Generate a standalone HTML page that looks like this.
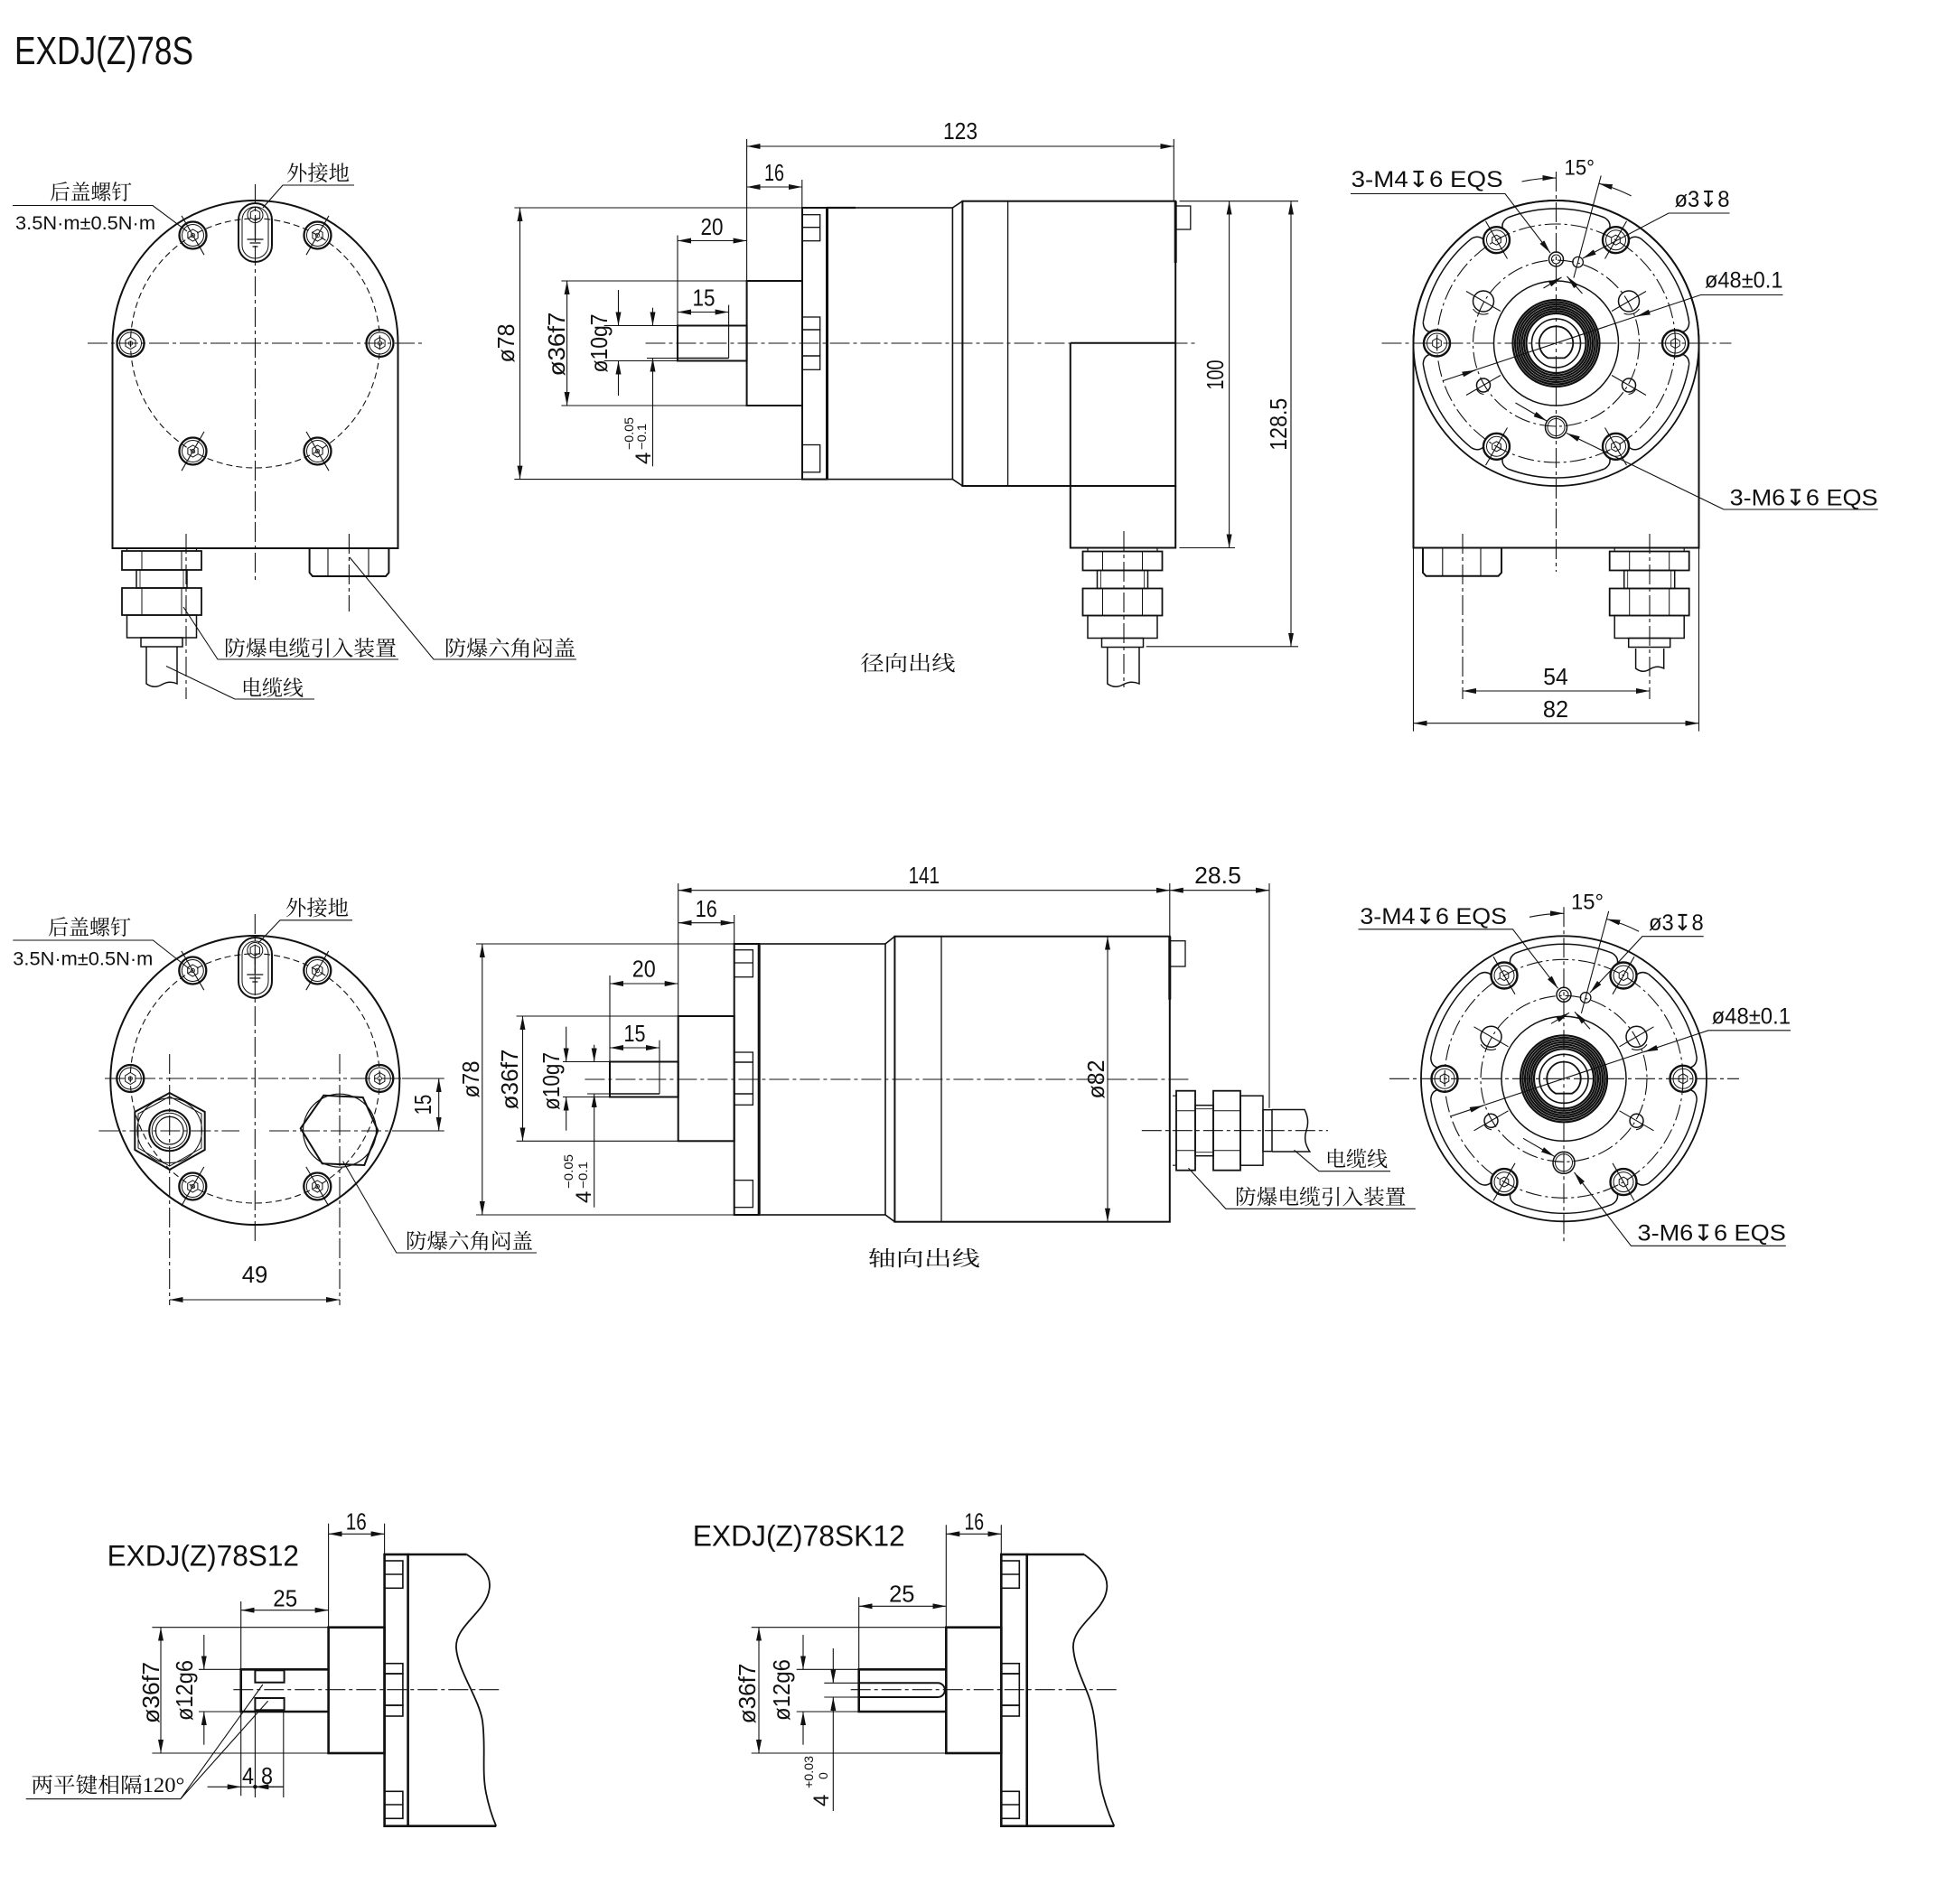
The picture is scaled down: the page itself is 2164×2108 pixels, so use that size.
<!DOCTYPE html>
<html><head><meta charset="utf-8">
<style>
html,body{margin:0;padding:0;background:#fff}
svg{display:block}
text{font-family:"Liberation Sans","DejaVu Sans","Noto Sans CJK SC",sans-serif;fill:#111;stroke:none}
.s{font-family:"Liberation Serif","Noto Serif CJK SC","Noto Sans CJK SC",serif;font-size:23px}
.n{font-size:26px}
.f{font-size:25px}
.d{stroke-width:1.1}
.c{stroke-width:1.1;stroke-dasharray:22 4 4 4}
.aa{marker-start:url(#a);marker-end:url(#a)}
.ae{marker-end:url(#a)}
</style></head><body>
<svg width="2164" height="2108" viewBox="0 0 2164 2108" xmlns="http://www.w3.org/2000/svg">
<defs>
<marker id="a" viewBox="0 0 15 6" refX="15" refY="3" markerWidth="15" markerHeight="6" orient="auto-start-reverse" markerUnits="userSpaceOnUse"><path d="M0,0L15,3L0,6z" fill="#111" stroke="none"/></marker>
<g id="hx" fill="none" stroke="#111" stroke-width="1"><polygon points="0,-6 5.2,-3 5.2,3 0,6 -5.2,3 -5.2,-3"/></g>
<g id="scr" fill="none" stroke="#111"><circle r="15" stroke-width="2.3"/><circle r="12" stroke-width="1"/><polygon points="0,-6.5 5.6,-3.25 5.6,3.25 0,6.5 -5.6,3.25 -5.6,-3.25" stroke-width="1"/><circle r="2.2" stroke-width="0.8"/></g>
<g id="blt" fill="none" stroke="#111"><circle r="14.5" stroke-width="2.4"/><circle r="11" stroke-width="1"/><polygon points="0,-5.5 4.8,-2.75 4.8,2.75 0,5.5 -4.8,2.75 -4.8,-2.75" stroke-width="1"/></g>
<g id="gl" fill="none" stroke="#111">
<path d="M-38.5,0V4M38.5,0V4" stroke-width="1.2"/>
<rect x="-44" y="4" width="88" height="21" stroke-width="1.8"/>
<path d="M-22,4V25M22,4V25" stroke-width="1"/>
<rect x="-28" y="25" width="56" height="20" stroke-width="1.5"/>
<path d="M-24,25V45M24,25V45" stroke-width="0.8"/>
<rect x="-44" y="45" width="88" height="30" stroke-width="1.8"/>
<path d="M-22,45V75M22,45V75" stroke-width="1"/>
<rect x="-38.5" y="75" width="77" height="25" stroke-width="1.5"/>
<rect x="-23" y="100" width="46" height="10" stroke-width="1.5"/>
</g>
<g id="fil" fill="none" stroke="#111" stroke-width="1.5"><path d="M147.2,-23.3A149,149 0 0 0 93.8,-115.8M147.2,-23.3Q147,-14 139,-12.1M147.2,23.3Q147,14 139,12.1"/></g>
<g id="fv" fill="none" stroke="#111">
<circle r="158" stroke-width="1.8"/>
<use href="#fil"/><use href="#fil" transform="rotate(-60)"/><use href="#fil" transform="rotate(-120)"/><use href="#fil" transform="rotate(-180)"/><use href="#fil" transform="rotate(-240)"/><use href="#fil" transform="rotate(-300)"/>
<circle r="132" stroke-width="1.1" stroke-dasharray="18 4 3 4"/>
<circle r="92" stroke-width="1.1" stroke-dasharray="18 4 3 4"/>
<circle r="69" stroke-width="1.5"/>
<g stroke-width="2.2"><circle r="48"/><circle r="45.5"/><circle r="43"/><circle r="40.5"/><circle r="38"/><circle r="35.5"/><circle r="33"/></g>
<circle r="27" stroke-width="1.6"/>
<path d="M-9,16.4A18.7,18.7 0 1 1 9,16.4Z" stroke-width="1.8"/>
<use href="#blt" x="132" y="0"/><use href="#blt" x="-132" y="0"/><use href="#blt" x="66" y="-114.3"/><use href="#blt" x="-66" y="-114.3"/><use href="#blt" x="-66" y="114.3"/><use href="#blt" x="66" y="114.3"/>
<path class="d" d="M54,-93.5L78,-135.1M-54,-93.5L-78,-135.1M-54,93.5L-78,135.1M54,93.5L78,135.1"/>
<circle cx="0" cy="-93" r="8" stroke-width="1.5"/><circle cx="0" cy="-93" r="5" stroke-width="1"/>
<circle cx="24.1" cy="-89.8" r="5.8" stroke-width="1.3"/>
<circle cx="80.5" cy="-46.5" r="11.5" stroke-width="1.5"/><circle cx="-80.5" cy="-46.5" r="11.5" stroke-width="1.5"/>
<path d="M92,-38A14,14 0 0 1 75,-33M-92,-38A14,14 0 0 0 -75,-33" stroke-width="1.1"/>
<circle cx="-80.5" cy="46.5" r="7.5" stroke-width="1.5"/><circle cx="80.5" cy="46.5" r="7.5" stroke-width="1.5"/>
<path d="M88,51A10,10 0 0 1 80,56.5M-88,51A10,10 0 0 0 -80,56.5" stroke-width="1.1"/>
<circle cx="0" cy="93" r="12" stroke-width="1.5"/><circle cx="0" cy="93" r="9.5" stroke-width="1"/>
<path class="d" d="M61.5,-35.5L99.5,-57.5M-61.5,-35.5L-99.5,-57.5M-61.5,35.5L-99.5,57.5M61.5,35.5L99.5,57.5"/>
<path class="d ae" d="M-38,-179A183,183 0 0 1 0,-183"/>
<path class="d ae" d="M83.1,-163.1A183,183 0 0 0 47.4,-176.8"/>
<path class="d" d="M19.4,-72.4L49.7,-185.5"/>
<path class="d" d="M-125,41.5L160,-53.5H251"/>
<path class="d ae" d="M-104.4,34.8L-89.2,29.7"/><path class="d ae" d="M104.4,-34.8L89.2,-29.7"/>
<path class="d ae" d="M-227.5,-165.5H-56.5L-6.5,-100"/>
<path class="d ae" d="M-45,66L-10.5,86"/>
<path class="d ae" d="M-14,-61L6,-73"/><path class="d ae" d="M29,-55L12,-74"/>
<path class="c" d="M-193,0H194M0,-190V183"/>
</g>
</defs>

<!-- ============ TITLE ============ -->
<text x="16" y="71" font-size="44" textLength="198" lengthAdjust="spacingAndGlyphs">EXDJ(Z)78S</text>

<g fill="none" stroke="#111">
<!-- ============ TOP-LEFT (rear, radial) ============ -->
<path d="M124.5,607V380A158,158 0 0 1 440.5,380V607Z" stroke-width="2"/>
<circle cx="282.5" cy="380" r="138" stroke-width="1.1" stroke-dasharray="7 4"/>
<path class="c" d="M282.5,204V646M97,380H468"/>
<use href="#scr" x="351.5" y="260.5"/><use href="#scr" x="213.5" y="260.5"/><use href="#scr" x="144.5" y="380"/><use href="#scr" x="420.5" y="380"/><use href="#scr" x="213.5" y="499.5"/><use href="#scr" x="351.5" y="499.5"/>
<path class="d" d="M339,282.2L364,238.9M226,282.2L201,238.9M226,477.9L201,521.2M339,477.9L364,521.2"/>
<rect x="264" y="225" width="37" height="65" rx="18.5" stroke-width="2"/>
<rect x="268" y="229" width="29" height="57" rx="14.5" stroke-width="1"/>
<use href="#hx" x="282.5" y="238"/>
<circle cx="282.5" cy="238" r="8.5" stroke-width="1"/>
<path d="M282.5,246V265M273.5,265H291.5M276.5,269H288.5M279.5,273H285.5" stroke-width="1.3"/>
<use href="#gl" x="179" y="606"/>
<path d="M162,716V757Q170.5,763 179,758T196,757V716" stroke-width="1.5"/>
<path class="c" d="M206,591V774"/>
<path d="M342.6,607V634L346,638H427L430.4,634V607" stroke-width="2"/>
<path class="d" d="M363,607V638M408,607V638"/>
<path class="c" d="M386.4,591V677"/>
<path class="d" d="M14,227.5H169L207,256"/>
<path class="d" d="M392,205H313L291,230"/>
<path class="d" d="M441,730H241L203,672"/>
<path class="d" d="M638,730H480L387,617"/>
<path class="d" d="M348,774H260L184,737.5"/>

<!-- ============ TOP-MIDDLE (side, radial) ============ -->
<path class="d aa" d="M826.6,162H1299.3"/>
<path class="d" d="M826.6,154V311.2M1299.3,154V222.7"/>
<path class="d aa" d="M826.6,207H887.8"/>
<path class="d" d="M887.8,199V230"/>
<rect x="888" y="230" width="27.5" height="300.6" stroke-width="2"/>
<path d="M915.5,231V530" stroke-width="3"/>
<path d="M915,230H947" stroke-width="2.2"/>
<g stroke-width="1.3"><rect x="888" y="237.7" width="19.7" height="29"/><path d="M888,251.7H907.7"/><rect x="888" y="351" width="19.7" height="14"/><rect x="888" y="365" width="19.7" height="29"/><rect x="888" y="394" width="19.7" height="15.3"/><rect x="888" y="492.5" width="19.7" height="30.3"/></g>
<rect x="915.5" y="230" width="138.9" height="300.6" stroke-width="1.6"/>
<path d="M1054.4,230L1065.4,222.7M1054.4,530.6L1065.4,538" stroke-width="1.6"/>
<rect x="1065.4" y="222.7" width="235.8" height="315.3" stroke-width="2"/>
<path d="M1115.6,222.7V538" stroke-width="1.3"/>
<path d="M1184.8,379.7V606.5H1301.2V538M1184.8,379.7H1301.2" stroke-width="2"/>
<path d="M1301.2,222.7V291" stroke-width="3"/>
<rect x="1301.2" y="228" width="16.6" height="26" stroke-width="1.3"/>
<path class="c" d="M714.5,380H1324"/>
<rect x="826.6" y="311" width="61.4" height="138" stroke-width="2"/>
<rect x="750" y="360.5" width="76.6" height="39" stroke-width="2"/>
<path d="M750,396.5H806.6" stroke-width="1.6"/>
<path class="d aa" d="M575.5,230V530.6"/>
<path class="d" d="M569.4,230H888M569.4,530.6H888"/>
<path class="d aa" d="M627.6,311V449"/>
<path class="d" d="M621.4,311H826.6M621.4,449H826.6"/>
<path class="d ae" d="M684.5,321V360.5"/><path class="d ae" d="M684.5,438V399.5"/>
<path class="d" d="M668.6,360.5H750M668.6,399.5H750"/>
<path class="d ae" d="M722.5,340.7V360.5"/><path class="d ae" d="M722.5,516.3V396.5"/>
<path class="d" d="M716,396.5H750"/>
<path class="d aa" d="M750,266.5H826.6"/>
<path class="d" d="M750,260.5V360.5"/>
<path class="d aa" d="M750,345.5H806.6"/>
<path class="d" d="M806.6,337.6V396.5"/>
<path class="d aa" d="M1360.6,222.7V606.5"/>
<path class="d" d="M1305.5,222.7H1437M1305.5,606.5H1367"/>
<path class="d aa" d="M1429,222.7V715.8"/>
<path class="d" d="M1268.7,715.8H1437"/>
<use href="#gl" x="1242.5" y="606.5"/>
<path d="M1225.8,716.5V757Q1234,763 1243,758T1261,757V716.5" stroke-width="1.5"/>
<path class="c" d="M1244,588V761"/>

<!-- ============ TOP-RIGHT (front, radial) ============ -->
<path d="M1564.5,606.5V380A158,158 0 0 1 1880.5,380V606.5Z" stroke-width="2"/>
<use href="#fv" x="1722.5" y="380"/>
<path class="c" d="M1722.5,563V633"/>
<path d="M1575,606.5V634L1578.5,637.8H1658.5L1662,634V606.5" stroke-width="2"/>
<path class="d" d="M1596.8,606.5V637.8M1639,606.5V637.8"/>
<use href="#gl" x="1825.7" y="606.5"/>
<path d="M1810.6,718V740Q1818,746 1826,741T1841.7,740V718" stroke-width="1.5"/>
<path class="c" d="M1619,591V774M1826,591V774"/>
<path class="d aa" d="M1619,765H1826"/>
<path class="d aa" d="M1564.5,800.7H1880.5"/>
<path class="d" d="M1564.5,606.5V809.6M1880.5,606.5V809.6"/>
<path class="d ae" d="M1914.5,236H1847L1752,286"/>
<path class="d ae" d="M2078.7,564H1908L1734,479.5"/>

<!-- ============ MIDDLE-LEFT (rear, axial) ============ -->
<circle cx="282.3" cy="1196" r="160" stroke-width="2"/>
<circle cx="282.3" cy="1194" r="138" stroke-width="1.1" stroke-dasharray="7 4"/>
<path class="c" d="M282.3,1012V1375M116,1194H457M109.4,1252H265M298,1252H453"/>
<use href="#scr" x="420.3" y="1194"/><use href="#scr" x="144.3" y="1194"/><use href="#scr" x="351.3" y="1074.5"/><use href="#scr" x="213.3" y="1074.5"/><use href="#scr" x="213.3" y="1313.5"/><use href="#scr" x="351.3" y="1313.5"/>
<path class="d" d="M338.8,1096.2L363.8,1052.9M225.8,1096.2L200.8,1052.9M225.8,1291.9L200.8,1335.2M338.8,1291.9L363.8,1335.2"/>
<rect x="264" y="1038" width="37" height="67" rx="18.5" stroke-width="2"/>
<rect x="268" y="1042" width="29" height="59" rx="14.5" stroke-width="1"/>
<use href="#hx" x="282.3" y="1052"/>
<circle cx="282.3" cy="1052" r="8.5" stroke-width="1"/>
<path d="M282.3,1060V1079M273.3,1079H291.3M276.3,1083H288.3M279.3,1087H285.3" stroke-width="1.3"/>
<polygon points="187.7,1210 226.7,1231 226.7,1273 187.7,1295 149.3,1273 149.3,1231" stroke-width="2"/>
<polygon points="187.7,1214 223,1233 223,1271 187.7,1291 153,1271 153,1233" stroke-width="1"/>
<circle cx="187.7" cy="1251.7" r="35.8" stroke-width="1"/>
<circle cx="187.7" cy="1251.7" r="22.5" stroke-width="2"/>
<circle cx="187.7" cy="1251.7" r="19.5" stroke-width="1"/>
<circle cx="187.7" cy="1251.7" r="15.3" stroke-width="1.2"/>
<polygon points="358.3,1212.7 401.7,1215 418.3,1251.7 403.3,1290 356.7,1288.3 332.7,1249.3" stroke-width="2"/>
<circle cx="376" cy="1251.7" r="40.5" stroke-width="1.2"/>
<path class="c" d="M187.7,1167V1445M376,1167V1445"/>
<path class="d aa" d="M485.7,1194V1252"/>
<path class="d" d="M445,1194H491.8M453,1252H491.8"/>
<path class="d aa" d="M187.7,1439H376"/>
<path class="d" d="M14.3,1041H169.4L210,1073"/>
<path class="d" d="M390,1018.8H310L286,1044"/>
<path class="d" d="M594,1387H438.8L379.6,1285.7"/>

<!-- ============ MIDDLE-MIDDLE (side, axial) ============ -->
<path class="d aa" d="M750.7,985.7H1294.8"/>
<path class="d aa" d="M1294.8,985.7H1405"/>
<path class="d" d="M750.7,978V1125M1294.8,978V1036.7M1405,978V1226.7"/>
<path class="d aa" d="M750.7,1021.7H812.7"/>
<path class="d" d="M812.7,1013V1045"/>
<rect x="812.7" y="1045" width="27.5" height="300" stroke-width="2"/>
<path d="M840.2,1046V1344" stroke-width="3"/>
<g stroke-width="1.3"><rect x="812.7" y="1051.7" width="20.7" height="30"/><path d="M812.7,1066H833.4"/><rect x="812.7" y="1165" width="20.7" height="11"/><rect x="812.7" y="1176" width="20.7" height="35"/><rect x="812.7" y="1211" width="20.7" height="12.3"/><rect x="812.7" y="1306.7" width="20.7" height="30"/></g>
<rect x="840.2" y="1045" width="139.8" height="300" stroke-width="1.6"/>
<path d="M980,1045L990.4,1036.7M980,1345L990.4,1352.7" stroke-width="1.6"/>
<rect x="990.4" y="1036.7" width="304.4" height="316" stroke-width="2"/>
<path d="M1042,1036.7V1352.7" stroke-width="1.3"/>
<path d="M1294.8,1036.7V1106.7" stroke-width="3"/>
<rect x="1294.8" y="1041.7" width="17.2" height="28.3" stroke-width="1.3"/>
<path class="d aa" d="M1226,1036.7V1352.7"/>
<rect x="750.7" y="1125" width="62" height="138.3" stroke-width="2"/>
<rect x="675" y="1175.5" width="75.7" height="39" stroke-width="2"/>
<path d="M675,1211H730" stroke-width="1.6"/>
<path class="d aa" d="M533.8,1045V1345"/>
<path class="d" d="M527,1045H812.7M527,1345H812.7"/>
<path class="d aa" d="M578.5,1125V1263.3"/>
<path class="d" d="M571.6,1125H750.7M571.6,1263.3H750.7"/>
<path class="d ae" d="M626.7,1136.7V1175.5"/><path class="d ae" d="M626.7,1251.7V1214.5"/>
<path class="d" d="M623,1175.5H675M623,1214.5H675"/>
<path class="d ae" d="M657.7,1156.7V1175.5"/><path class="d ae" d="M657.7,1336.7V1211"/>
<path class="d" d="M650,1211H675"/>
<path class="d aa" d="M675,1089H750.7"/>
<path class="d" d="M675,1080V1175.5"/>
<path class="d aa" d="M675,1160H730"/>
<path class="d" d="M730,1151.7V1211"/>
<path class="c" d="M647.4,1195H1319"/>
<use href="#gl" transform="translate(1298,1251.7) rotate(-90)"/>
<path d="M1408,1228.5H1444Q1450,1240 1446,1251.7T1449.8,1275H1408" stroke-width="1.5"/>
<path class="c" d="M1263.8,1251.7H1470"/>
<path class="d" d="M1539,1296.7H1460L1432.5,1273.3"/>
<path class="d" d="M1566.8,1338.3H1356.8L1315.5,1293.3"/>

<!-- ============ MIDDLE-RIGHT (front, axial) ============ -->
<use href="#fv" x="1731" y="1194.3"/>
<path class="d ae" d="M1885.7,1036.7H1817.9L1760,1099"/>
<path class="d ae" d="M1976.8,1379.3H1805.4L1742.5,1298"/>

<!-- ============ BOTTOM-LEFT ============ -->
<path class="d aa" d="M363.6,1698.3H425.6"/>
<path class="d" d="M363.6,1686.7V1801.7M425.6,1686.7V1721"/>
<rect x="425.6" y="1721" width="26" height="300.7" stroke-width="2.6"/>
<g stroke-width="1.6"><rect x="425.6" y="1728" width="20.3" height="30.3"/><path d="M425.6,1743H445.9"/><rect x="425.6" y="1841.7" width="20.3" height="11.3"/><rect x="425.6" y="1853" width="20.3" height="35"/><rect x="425.6" y="1888" width="20.3" height="12"/><rect x="425.6" y="1983.3" width="20.3" height="30"/><path d="M425.6,1998H445.9"/></g>
<path d="M451.6,1721H516.6M451.6,2021.7H549.2" stroke-width="2.6"/>
<path d="M516.6,1721C530,1730 545,1742 541.5,1760C538,1785 503,1800 505,1825C507,1850 530,1880 534,1905C538,1935 533,1960 538,1985C541,2000 545,2012 549.2,2021.7" stroke-width="1.8"/>
<rect x="363.6" y="1801.7" width="62" height="139.3" stroke-width="2.6"/>
<path d="M363.6,1848.3H266.7V1895H363.6" stroke-width="2.6"/>
<rect x="282.4" y="1849.3" width="32.2" height="13.4" stroke-width="2"/>
<rect x="282.4" y="1880" width="32.2" height="13.3" stroke-width="2"/>
<path class="c" d="M258.3,1870.7H553"/>
<path class="d aa" d="M266.7,1782.7H363.6"/>
<path class="d" d="M266.7,1773V1848.3M266.7,1895V1988.3"/>
<path class="d aa" d="M178,1801.7V1941"/>
<path class="d" d="M168.4,1801.7H363.6M168.4,1941H363.6"/>
<path class="d ae" d="M225.8,1810V1848.3"/><path class="d ae" d="M225.8,1931.7V1895"/>
<path class="d" d="M220,1848.3H266.7M220,1895H266.7"/>
<path class="d ae" d="M229.6,1978.3H266.7"/><path class="d ae" d="M313.8,1978.3H282.4"/>
<path class="d" d="M266.7,1978.3H313.8M282.4,1893V1990M313.8,1895V1990"/>
<circle cx="282.4" cy="1978.3" r="1.8" fill="#111"/>
<path class="d" d="M28.7,1991.7H199.8L290.9,1865M199.8,1991.7L296.6,1883.3"/>

<!-- ============ BOTTOM-MIDDLE ============ -->
<path class="d aa" d="M1047.3,1698.3H1108.3"/>
<path class="d" d="M1047.3,1688.3V1801.7M1108.3,1688.3V1721"/>
<rect x="1108.3" y="1721" width="28.4" height="300.7" stroke-width="2.6"/>
<g stroke-width="1.6"><rect x="1108.3" y="1728" width="20" height="30.3"/><path d="M1108.3,1743H1128.3"/><rect x="1108.3" y="1841.7" width="20" height="11.3"/><rect x="1108.3" y="1853" width="20" height="35"/><rect x="1108.3" y="1888" width="20" height="12"/><rect x="1108.3" y="1983.3" width="20" height="30"/><path d="M1108.3,1998H1128.3"/></g>
<path d="M1136.7,1721H1200M1136.7,2021.7H1233.3" stroke-width="2.6"/>
<path d="M1200,1721C1212,1730 1228,1742 1225,1760C1222,1785 1186,1800 1188,1825C1190,1850 1205,1870 1210,1895C1215,1920 1214,1950 1218,1975C1222,1995 1228,2010 1233.3,2021.7" stroke-width="1.8"/>
<rect x="1047.3" y="1801.7" width="61" height="139.3" stroke-width="2.6"/>
<path d="M1047.3,1848.3H950.7V1895H1047.3" stroke-width="2.6"/>
<path d="M951,1863.3H1038A7.85,7.85 0 0 1 1038,1879H951" stroke-width="2"/>
<path class="c" d="M941.7,1870.7H1236.7"/>
<path class="d aa" d="M950.7,1778.3H1047.3"/>
<path class="d" d="M950.7,1768.3V1848.3"/>
<path class="d aa" d="M840,1801.7V1941"/>
<path class="d" d="M831.7,1801.7H1047.3M831.7,1941H1047.3"/>
<path class="d ae" d="M889,1810V1848.3"/><path class="d ae" d="M889,1931.7V1895"/>
<path class="d" d="M881.7,1848.3H950.7M881.7,1895H950.7"/>
<path class="d ae" d="M922.3,1825V1863.3"/><path class="d ae" d="M922.3,2005V1879"/>
<path class="d" d="M912.3,1863.3H950.7M912.3,1879H950.7"/>
</g>

<!-- ============ TEXT: TOP-LEFT ============ -->
<text x="55" y="220.5" class="s" textLength="91" lengthAdjust="spacingAndGlyphs">后盖螺钉</text>
<text x="17" y="254" font-size="21" textLength="155" lengthAdjust="spacingAndGlyphs">3.5N·m±0.5N·m</text>
<text x="317" y="199.5" class="s" textLength="70" lengthAdjust="spacingAndGlyphs">外接地</text>
<text x="248" y="725.5" class="s" textLength="191" lengthAdjust="spacingAndGlyphs">防爆电缆引入装置</text>
<text x="492" y="725.5" class="s" textLength="145" lengthAdjust="spacingAndGlyphs">防爆六角闷盖</text>
<text x="267" y="769.5" class="s" textLength="69" lengthAdjust="spacingAndGlyphs">电缆线</text>

<!-- ============ TEXT: TOP-MIDDLE ============ -->
<text x="1063" y="154" class="n" text-anchor="middle" textLength="38" lengthAdjust="spacingAndGlyphs">123</text>
<text x="857" y="200" class="n" text-anchor="middle" textLength="22" lengthAdjust="spacingAndGlyphs">16</text>
<text x="788" y="260" class="n" text-anchor="middle" textLength="25" lengthAdjust="spacingAndGlyphs">20</text>
<text x="779" y="338.5" class="n" text-anchor="middle" textLength="25" lengthAdjust="spacingAndGlyphs">15</text>
<text transform="translate(569,380) rotate(-90)" class="n" text-anchor="middle" textLength="43" lengthAdjust="spacingAndGlyphs">ø78</text>
<text transform="translate(625,381) rotate(-90)" class="n" text-anchor="middle" textLength="71" lengthAdjust="spacingAndGlyphs">ø36f7</text>
<text transform="translate(672,380) rotate(-90)" class="n" text-anchor="middle" textLength="65" lengthAdjust="spacingAndGlyphs">ø10g7</text>
<text transform="translate(1354,415) rotate(-90)" class="n" text-anchor="middle" textLength="33" lengthAdjust="spacingAndGlyphs">100</text>
<text transform="translate(1424,469.7) rotate(-90)" class="n" text-anchor="middle" textLength="58" lengthAdjust="spacingAndGlyphs">128.5</text>
<g transform="translate(720,514) rotate(-90)"><text x="0" y="0" font-size="24">4</text><text x="16" y="-19" font-size="14" textLength="36" lengthAdjust="spacingAndGlyphs">−0.05</text><text x="16" y="-5" font-size="14" textLength="29" lengthAdjust="spacingAndGlyphs">−0.1</text></g>
<text x="1005" y="742" class="s" font-size="26" text-anchor="middle" textLength="105" lengthAdjust="spacingAndGlyphs">径向出线</text>

<!-- ============ TEXT: TOP-RIGHT ============ -->
<text x="1495.6" y="207" class="f" textLength="168" lengthAdjust="spacingAndGlyphs">3-M4↧6 EQS</text>
<text x="1731.5" y="193.6" font-size="24" textLength="33.5" lengthAdjust="spacingAndGlyphs">15°</text>
<text x="1853.5" y="229" class="f" textLength="61" lengthAdjust="spacingAndGlyphs">ø3↧8</text>
<text x="1887" y="318.6" class="f" textLength="86.5" lengthAdjust="spacingAndGlyphs">ø48±0.1</text>
<text x="1914.6" y="559.6" class="f" textLength="164" lengthAdjust="spacingAndGlyphs">3-M6↧6 EQS</text>
<text x="1722" y="758" class="n" text-anchor="middle" textLength="27.4" lengthAdjust="spacingAndGlyphs">54</text>
<text x="1722" y="794" class="n" text-anchor="middle" textLength="28.2" lengthAdjust="spacingAndGlyphs">82</text>

<!-- ============ TEXT: MIDDLE-LEFT ============ -->
<text x="53" y="1034.5" class="s" textLength="92" lengthAdjust="spacingAndGlyphs">后盖螺钉</text>
<text x="14.3" y="1068.7" font-size="21" textLength="155" lengthAdjust="spacingAndGlyphs">3.5N·m±0.5N·m</text>
<text x="316" y="1013" class="s" textLength="70" lengthAdjust="spacingAndGlyphs">外接地</text>
<text x="449" y="1382" class="s" textLength="141" lengthAdjust="spacingAndGlyphs">防爆六角闷盖</text>
<text transform="translate(477,1223) rotate(-90)" class="n" text-anchor="middle" textLength="22.4" lengthAdjust="spacingAndGlyphs">15</text>
<text x="282" y="1420" class="n" text-anchor="middle" textLength="28.6" lengthAdjust="spacingAndGlyphs">49</text>

<!-- ============ TEXT: MIDDLE-MIDDLE ============ -->
<text x="1022.8" y="978" class="n" text-anchor="middle" textLength="34.4" lengthAdjust="spacingAndGlyphs">141</text>
<text x="1348" y="978" class="n" text-anchor="middle" textLength="51.7" lengthAdjust="spacingAndGlyphs">28.5</text>
<text x="781.7" y="1015" class="n" text-anchor="middle" textLength="24" lengthAdjust="spacingAndGlyphs">16</text>
<text x="712.8" y="1081.7" class="n" text-anchor="middle" textLength="26" lengthAdjust="spacingAndGlyphs">20</text>
<text x="702.5" y="1153" class="n" text-anchor="middle" textLength="24" lengthAdjust="spacingAndGlyphs">15</text>
<text transform="translate(530,1195) rotate(-90)" class="n" text-anchor="middle" textLength="41" lengthAdjust="spacingAndGlyphs">ø78</text>
<text transform="translate(573,1195) rotate(-90)" class="n" text-anchor="middle" textLength="67" lengthAdjust="spacingAndGlyphs">ø36f7</text>
<text transform="translate(619,1197) rotate(-90)" class="n" text-anchor="middle" textLength="64" lengthAdjust="spacingAndGlyphs">ø10g7</text>
<text transform="translate(1222,1195) rotate(-90)" class="n" text-anchor="middle" textLength="43" lengthAdjust="spacingAndGlyphs">ø82</text>
<g transform="translate(654,1332) rotate(-90)"><text x="0" y="0" font-size="24">4</text><text x="16" y="-20" font-size="14" textLength="38" lengthAdjust="spacingAndGlyphs">−0.05</text><text x="16" y="-4" font-size="14" textLength="30" lengthAdjust="spacingAndGlyphs">−0.1</text></g>
<text x="1467" y="1291" class="s" textLength="69" lengthAdjust="spacingAndGlyphs">电缆线</text>
<text x="1367" y="1333" class="s" textLength="189.5" lengthAdjust="spacingAndGlyphs">防爆电缆引入装置</text>
<text x="1022.8" y="1401" class="s" font-size="30" text-anchor="middle" textLength="124" lengthAdjust="spacingAndGlyphs">轴向出线</text>

<!-- ============ TEXT: MIDDLE-RIGHT ============ -->
<text x="1505.4" y="1023" class="f" textLength="162.6" lengthAdjust="spacingAndGlyphs">3-M4↧6 EQS</text>
<text x="1739" y="1006.7" font-size="24" textLength="36" lengthAdjust="spacingAndGlyphs">15°</text>
<text x="1825" y="1030" class="f" textLength="60.7" lengthAdjust="spacingAndGlyphs">ø3↧8</text>
<text x="1894.6" y="1133.3" class="f" textLength="87.4" lengthAdjust="spacingAndGlyphs">ø48±0.1</text>
<text x="1812.5" y="1373.3" class="f" textLength="164.3" lengthAdjust="spacingAndGlyphs">3-M6↧6 EQS</text>

<!-- ============ TEXT: BOTTOM-LEFT ============ -->
<text x="118.6" y="1733.3" font-size="32" textLength="212.4" lengthAdjust="spacingAndGlyphs">EXDJ(Z)78S12</text>
<text x="394.2" y="1693.3" class="n" text-anchor="middle" textLength="23" lengthAdjust="spacingAndGlyphs">16</text>
<text x="315.7" y="1778.3" class="n" text-anchor="middle" textLength="26.8" lengthAdjust="spacingAndGlyphs">25</text>
<text transform="translate(176,1874) rotate(-90)" class="n" text-anchor="middle" textLength="68" lengthAdjust="spacingAndGlyphs">ø36f7</text>
<text transform="translate(213,1871.5) rotate(-90)" class="n" text-anchor="middle" textLength="67" lengthAdjust="spacingAndGlyphs">ø12g6</text>
<text x="268" y="1975" class="n" textLength="13" lengthAdjust="spacingAndGlyphs">4</text>
<text x="289" y="1975" class="n" textLength="13" lengthAdjust="spacingAndGlyphs">8</text>
<text x="34.4" y="1984" class="s" textLength="170" lengthAdjust="spacingAndGlyphs">两平键相隔120°</text>

<!-- ============ TEXT: BOTTOM-MIDDLE ============ -->
<text x="766.7" y="1711.7" font-size="32" textLength="235" lengthAdjust="spacingAndGlyphs">EXDJ(Z)78SK12</text>
<text x="1078.3" y="1693.3" class="n" text-anchor="middle" textLength="21.7" lengthAdjust="spacingAndGlyphs">16</text>
<text x="998.3" y="1773.3" class="n" text-anchor="middle" textLength="28.3" lengthAdjust="spacingAndGlyphs">25</text>
<text transform="translate(836,1875) rotate(-90)" class="n" text-anchor="middle" textLength="66.7" lengthAdjust="spacingAndGlyphs">ø36f7</text>
<text transform="translate(874,1871) rotate(-90)" class="n" text-anchor="middle" textLength="68" lengthAdjust="spacingAndGlyphs">ø12g6</text>
<g transform="translate(917,2000) rotate(-90)"><text x="0" y="0" font-size="24">4</text><text x="20" y="-17" font-size="14" textLength="36" lengthAdjust="spacingAndGlyphs">+0.03</text><text x="30" y="-1" font-size="14">0</text></g>
</svg>
</body></html>
